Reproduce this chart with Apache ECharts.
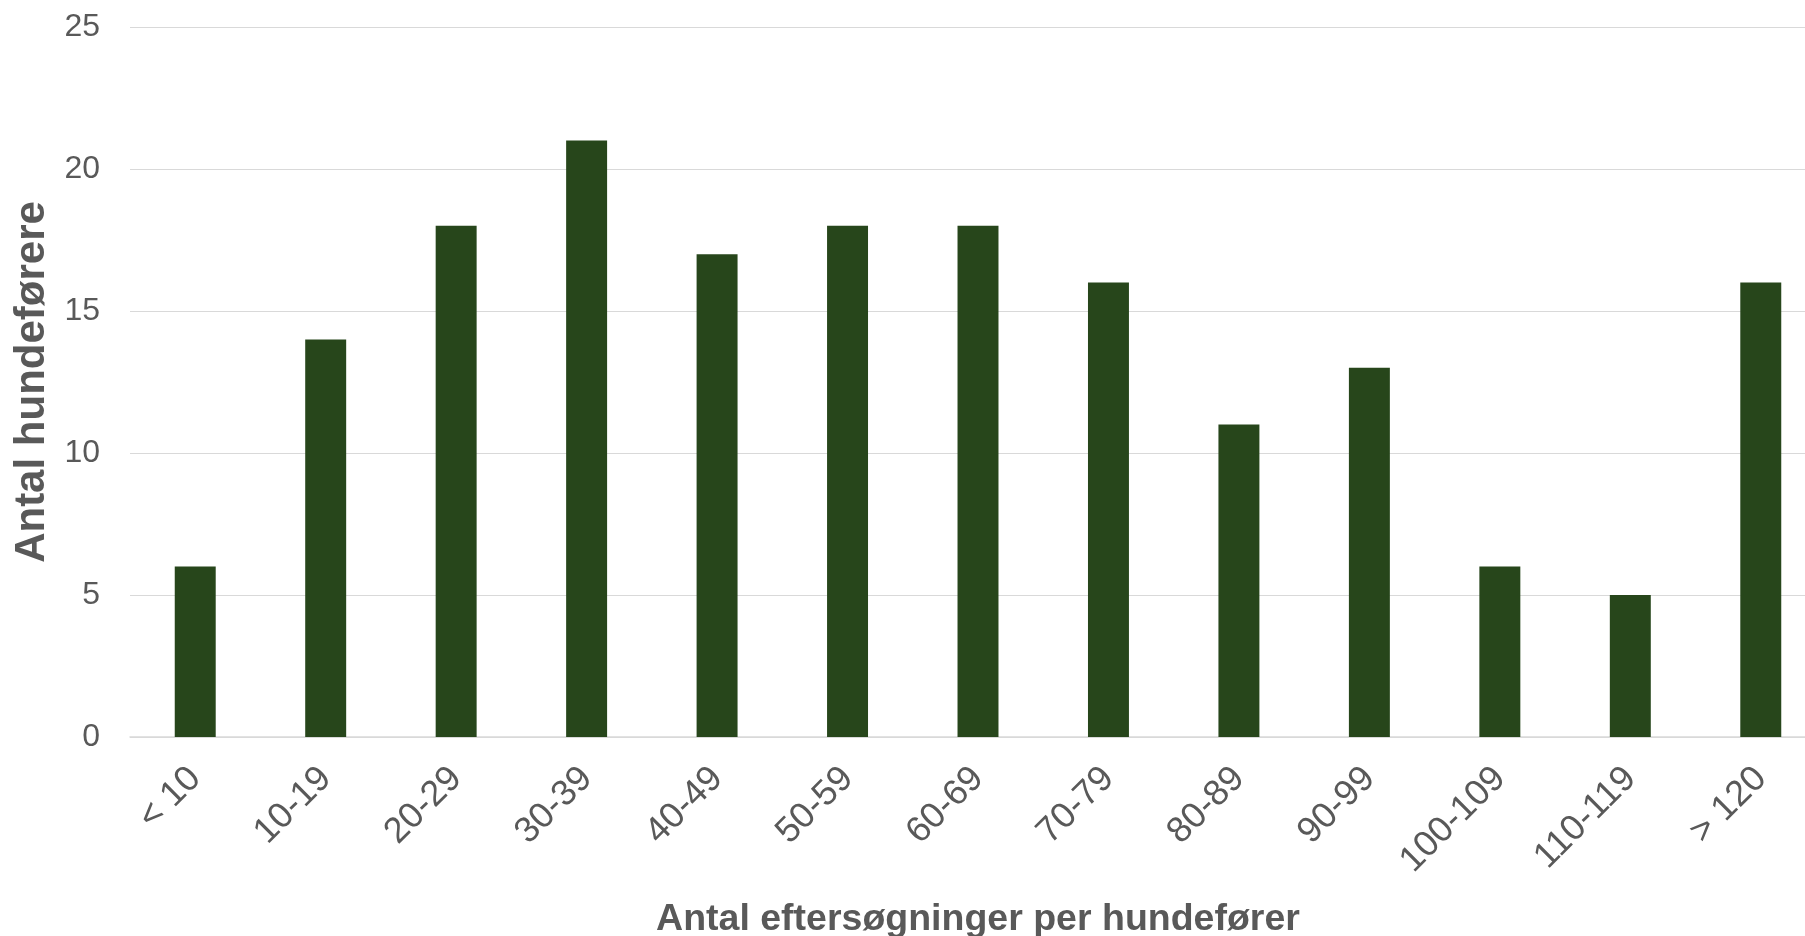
<!DOCTYPE html>
<html>
<head>
<meta charset="utf-8">
<script src="https://cdn.jsdelivr.net/npm/echarts@6/dist/echarts.min.js"></script>
<style>
html,body{margin:0;padding:0;background:#fff;}
#chart{width:1805px;height:936px;}
</style>
</head>
<body>
<div id="chart"></div>
<script>
const categories = ['< 10','10-19','20-29','30-39','40-49','50-59','60-69','70-79','80-89','90-99','100-109','110-119','> 120'];
const values = [6,14,18,21,17,18,18,16,11,13,6,5,16];
const xAxisName = 'Antal eftersøgninger per hundefører';
const yAxisName = 'Antal hundeførere';

const chart = echarts.init(document.getElementById('chart'), null, {renderer:'canvas'});
const font = 'Liberation Sans, Arial, sans-serif';
chart.setOption({
  animation:false,
  backgroundColor:'#ffffff',
  grid:{left:130, width:1696, top:27, bottom:199, containLabel:false, outerBoundsMode:'none'},
  xAxis:{
    type:'category',
    data:categories,
    name:xAxisName,
    nameLocation:'middle',
    nameGap:164,
    nameTextStyle:{fontFamily:font, fontSize:37.5, fontWeight:'bold', color:'#595959'},
    axisLine:{lineStyle:{color:'#d9d9d9', width:1.5}},
    axisTick:{show:false},
    axisLabel:{rotate:45, margin:36, fontFamily:font, fontSize:36, color:'#595959', interval:0}
  },
  yAxis:{
    type:'value',
    min:0, max:25, interval:5,
    name:yAxisName,
    nameLocation:'middle',
    nameGap:65,
    nameTextStyle:{fontFamily:font, fontSize:42, fontWeight:'bold', color:'#595959'},
    axisLine:{show:false},
    axisTick:{show:false},
    splitLine:{lineStyle:{color:'#d9d9d9', width:1}},
    axisLabel:{margin:30, fontFamily:font, fontSize:32, color:'#595959'}
  },
  series:[{
    type:'bar',
    data:values,
    barWidth:'31.4%',
    itemStyle:{color:'#27461b'}
  }]
});
</script>
</body>
</html>
